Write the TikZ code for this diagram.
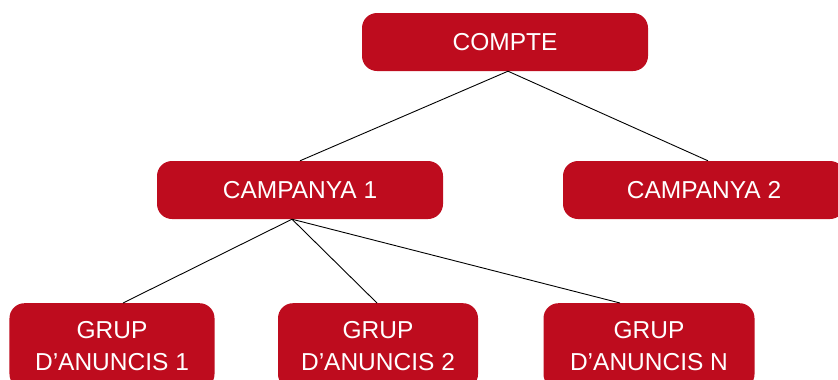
\documentclass[tikz,border=0pt]{standalone}
\usepackage{fontspec}
\setmainfont{Liberation Sans}
\usetikzlibrary{calc}
\definecolor{boxred}{RGB}{190,12,30}
\tikzset{
  box/.style={fill=boxred, text=white, rounded corners=15bp, inner sep=0pt,
    minimum width=286bp, minimum height=58bp,
    font=\fontsize{24.5bp}{32bp}\selectfont},
  groupbox/.style={box, minimum width=205bp, minimum height=86bp, anchor=north, align=center},
  link/.style={draw=black, line width=0.9bp}
}
\begin{document}
\begin{tikzpicture}[x=1bp,y=-1bp]
  \useasboundingbox (0,0) rectangle (838,379);
  \clip (0,0) rectangle (838,379);
  % top level
  \node[box] (compte) at (505,42) {COMPTE};
  % campaigns
  \node[box] (camp1) at (300,190) {CAMPANYA 1};
  \node[box, minimum width=282bp] (camp2) at (704,190) {CAMPANYA 2};
  % ad groups
  \node[groupbox] (g1) at (112,303) {GRUP\\D’ANUNCIS 1};
  \node[groupbox, minimum width=200bp] (g2) at (378,303) {GRUP\\D’ANUNCIS 2};
  \node[groupbox, minimum width=211bp] (gn) at (649,303) {GRUP\\D’ANUNCIS N};
  % connectors
  \coordinate (ctop) at ($(compte.south)+(3,0)$);
  \coordinate (cbot) at ($(camp1.south)+(-8,0)$);
  \draw[link] (ctop) -- (camp1.north);
  \draw[link] (ctop) -- ($(camp2.north)+(4,0)$);
  \draw[link] (cbot) -- ($(g1.north)+(11,0)$);
  \draw[link] (cbot) -- ($(g2.north)+(-1,0)$);
  \draw[link] (cbot) -- ($(gn.north)+(-29,0)$);
\end{tikzpicture}
\end{document}
